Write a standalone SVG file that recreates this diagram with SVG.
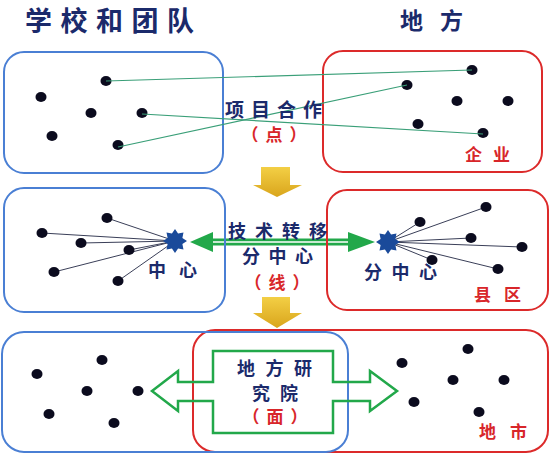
<svg xmlns="http://www.w3.org/2000/svg" xmlns:xlink="http://www.w3.org/1999/xlink" width="553" height="454" viewBox="0 0 553 454">
<defs>
<style>
.t{font-family:"Noto Sans CJK SC","Noto Sans",sans-serif;fill:#1b2a6b;font-weight:bold}
.r{font-family:"Noto Sans CJK SC","Noto Sans",sans-serif;fill:#d8262a;font-weight:bold}
.p{text-anchor:middle;letter-spacing:7px}
.bb{fill:none;stroke:#4a7fd4;stroke-width:2}
.rb{fill:none;stroke:#dc2a2a;stroke-width:2}
.d{fill:#0b0b1e}
.gl{stroke:#3a9f78;stroke-width:1.2;fill:none}
.sl{stroke:#3a3f58;stroke-width:1;fill:none}
.star{fill:#1a4a9a}
.gold{fill:url(#gg)}
</style>
<linearGradient id="gg" x1="0" y1="0" x2="0" y2="1">
<stop offset="0" stop-color="#f3cf45"/>
<stop offset="1" stop-color="#d9a51c"/>
</linearGradient>
<polygon id="st" points="0,-12 3.06,-7.39 8.49,-8.49 7.39,-3.06 12,0 7.39,3.06 8.49,8.49 3.06,7.39 0,12 -3.06,7.39 -8.49,8.49 -7.39,3.06 -12,0 -7.39,-3.06 -8.49,-8.49 -3.06,-7.39"/>
</defs>
<rect width="553" height="454" fill="#ffffff"/>

<g id="titles">
<text class="t" x="25" y="31" font-size="27" letter-spacing="8.5">学校和团队</text>
<text class="t" x="400" y="29" font-size="23" letter-spacing="17">地方</text>
</g>

<!-- Top row -->
<g id="school-top">
<rect class="bb" x="4" y="52" width="219" height="121" rx="20"/>
<ellipse class="d" cx="106" cy="81" rx="5.5" ry="5"/>
<ellipse class="d" cx="41" cy="97" rx="5.5" ry="5"/>
<ellipse class="d" cx="91" cy="113" rx="5.5" ry="5"/>
<ellipse class="d" cx="142" cy="113" rx="5.5" ry="5"/>
<ellipse class="d" cx="52" cy="136" rx="5.5" ry="5"/>
<ellipse class="d" cx="118" cy="145" rx="5.5" ry="5"/>
</g>
<g id="local-top">
<rect class="rb" x="323" y="51" width="219" height="121" rx="20"/>
<ellipse class="d" cx="472" cy="70" rx="5.5" ry="5"/>
<ellipse class="d" cx="407" cy="85" rx="5.5" ry="5"/>
<ellipse class="d" cx="457" cy="101" rx="5.5" ry="5"/>
<ellipse class="d" cx="508" cy="101" rx="5.5" ry="5"/>
<ellipse class="d" cx="418" cy="124" rx="5.5" ry="5"/>
<ellipse class="d" cx="483" cy="133" rx="5.5" ry="5"/>
<text class="r" x="465" y="161" font-size="17" letter-spacing="11">企业</text>
</g>

<g id="connectors">
<line class="gl" x1="106" y1="81" x2="472" y2="70"/>
<line class="gl" x1="142" y1="114" x2="483" y2="134"/>
<line class="gl" x1="118" y1="147" x2="407" y2="85"/>
<!-- middle left spokes -->
<line class="sl" x1="107" y1="218" x2="175" y2="241"/>
<line class="sl" x1="42" y1="233" x2="175" y2="241"/>
<line class="sl" x1="81" y1="243" x2="175" y2="241"/>
<line class="sl" x1="129" y1="250" x2="175" y2="241"/>
<line class="sl" x1="54" y1="272" x2="175" y2="241"/>
<line class="sl" x1="118" y1="281" x2="175" y2="241"/>
<!-- middle right spokes -->
<line class="sl" x1="420" y1="222" x2="388" y2="242"/>
<line class="sl" x1="486" y1="207" x2="388" y2="242"/>
<line class="sl" x1="471" y1="238" x2="388" y2="242"/>
<line class="sl" x1="522" y1="247" x2="388" y2="242"/>
<line class="sl" x1="432" y1="260" x2="388" y2="242"/>
<line class="sl" x1="498" y1="269" x2="388" y2="242"/>
<!-- green double arrow -->
<rect x="211" y="238.5" width="139" height="7" fill="#22a84a"/>
<line x1="211" y1="242" x2="350" y2="242" stroke="#ffffff" stroke-width="1.6"/>
<polygon points="190,242 213,232 213,252" fill="#22a84a"/>
<polygon points="375,242 348,232 348,252" fill="#22a84a"/>
<!-- gold arrows -->
<path class="gold" d="M261,167 H290 V185 H302 L277,197 L253,185 H261 Z"/>
<path class="gold" d="M262,297 H290 V313 H302 L277,328 L253,313 H262 Z"/>
</g>

<g id="label-point">
<text class="t" x="225" y="117" font-size="19" letter-spacing="7">项目合作</text>
<text class="r p" x="277.5" y="141" font-size="17">（点）</text>
</g>

<!-- Middle row -->
<g id="school-mid">
<rect class="bb" x="4" y="188" width="221" height="124" rx="20"/>
<ellipse class="d" cx="107" cy="218" rx="5.5" ry="5"/>
<ellipse class="d" cx="42" cy="233" rx="5.5" ry="5"/>
<ellipse class="d" cx="81" cy="243" rx="5.5" ry="5"/>
<ellipse class="d" cx="129" cy="250" rx="5.5" ry="5"/>
<ellipse class="d" cx="54" cy="272" rx="5.5" ry="5"/>
<ellipse class="d" cx="118" cy="281" rx="5.5" ry="5"/>
<use xlink:href="#st" class="star" transform="translate(175,241)"/>
<text class="t" x="148" y="277" font-size="18" letter-spacing="13">中心</text>
</g>
<g id="local-mid">
<rect class="rb" x="327" y="190" width="221" height="120" rx="20"/>
<ellipse class="d" cx="420" cy="222" rx="5.5" ry="5"/>
<ellipse class="d" cx="486" cy="207" rx="5.5" ry="5"/>
<ellipse class="d" cx="471" cy="238" rx="5.5" ry="5"/>
<ellipse class="d" cx="522" cy="247" rx="5.5" ry="5"/>
<ellipse class="d" cx="432" cy="260" rx="5.5" ry="5"/>
<ellipse class="d" cx="498" cy="269" rx="5.5" ry="5"/>
<use xlink:href="#st" class="star" transform="translate(388,242)"/>
<text class="t" x="364" y="279" font-size="18" letter-spacing="9.5">分中心</text>
<text class="r" x="474" y="301" font-size="17" letter-spacing="13">县区</text>
</g>
<g id="label-line">
<text class="t" x="228" y="238" font-size="18" letter-spacing="9">技术转移</text>
<text class="t" x="242" y="263" font-size="18" letter-spacing="8.5">分中心</text>
<text class="r p" x="280.5" y="289" font-size="17">（线）</text>
</g>

<!-- Bottom row -->
<g id="local-bottom">
<rect class="rb" x="193" y="330" width="355" height="122" rx="22"/>
<ellipse class="d" cx="468" cy="349" rx="5.5" ry="5"/>
<ellipse class="d" cx="402" cy="363" rx="5.5" ry="5"/>
<ellipse class="d" cx="453" cy="380" rx="5.5" ry="5"/>
<ellipse class="d" cx="504" cy="380" rx="5.5" ry="5"/>
<ellipse class="d" cx="414" cy="402" rx="5.5" ry="5"/>
<ellipse class="d" cx="479" cy="412" rx="5.5" ry="5"/>
<text class="r" x="479" y="438" font-size="17" letter-spacing="14">地市</text>
</g>
<g id="school-bottom">
<rect class="bb" x="2" y="332" width="346" height="120" rx="22"/>
<ellipse class="d" cx="102" cy="360" rx="5.5" ry="5"/>
<ellipse class="d" cx="37" cy="374" rx="5.5" ry="5"/>
<ellipse class="d" cx="87" cy="391" rx="5.5" ry="5"/>
<ellipse class="d" cx="138" cy="391" rx="5.5" ry="5"/>
<ellipse class="d" cx="49" cy="414" rx="5.5" ry="5"/>
<ellipse class="d" cx="114" cy="423" rx="5.5" ry="5"/>
</g>
<g id="institute">
<path d="M213,351 H333 V382 H370 V371 L397,391 L370,411 V401 H333 V433 H213 V401 H178 V411 L152,391 L178,371 V382 H213 Z" fill="none" stroke="#22a84a" stroke-width="2.5"/>
<text class="t" x="237" y="375" font-size="18" letter-spacing="10.5">地方研</text>
<text class="t" x="252" y="400" font-size="18" letter-spacing="10">究院</text>
<text class="r p" x="278.5" y="423" font-size="17">（面）</text>
</g>
</svg>
